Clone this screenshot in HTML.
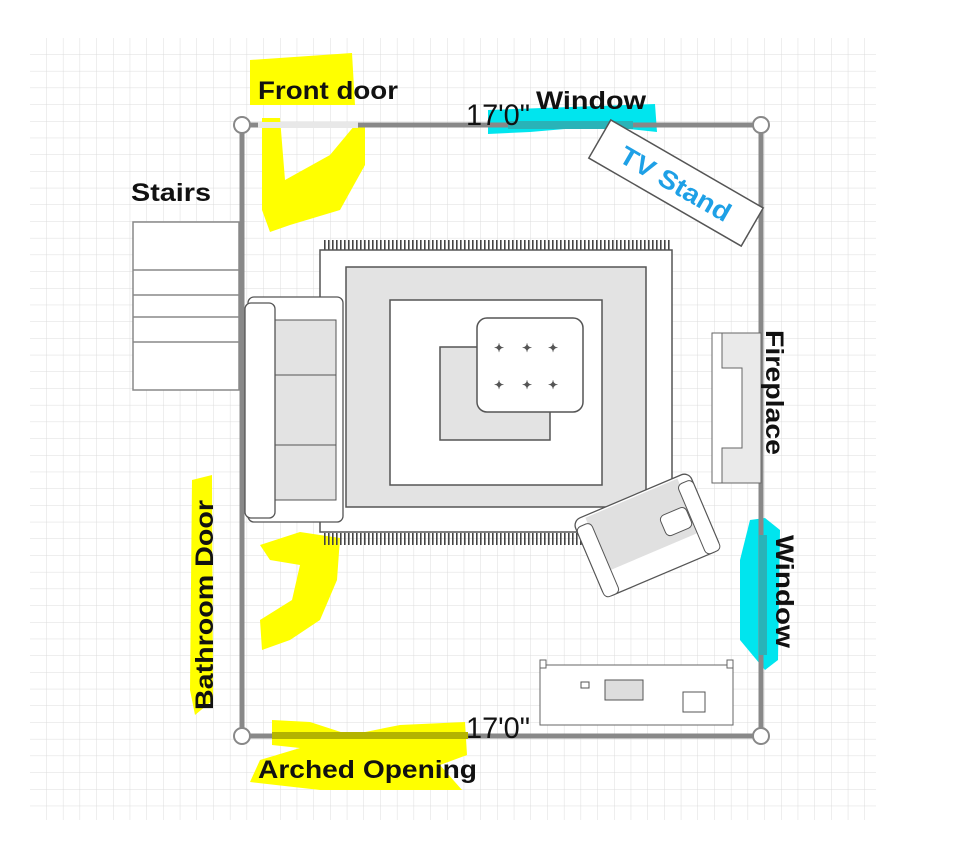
<!DOCTYPE html>
<html><head><meta charset="utf-8"><style>
html,body{margin:0;padding:0;background:#fff;width:960px;height:859px;overflow:hidden}
svg{display:block}
text{font-family:"Liberation Sans",sans-serif;font-weight:bold}
</style></head><body>
<svg width="960" height="859" viewBox="0 0 960 859" xmlns="http://www.w3.org/2000/svg">
<defs>
<pattern id="g" x="30" y="38" width="16.7" height="16.7" patternUnits="userSpaceOnUse">
<path d="M16.7 0V16.7H0" fill="none" stroke="#dcdcdc" stroke-width="1"/>
</pattern>
<pattern id="fr" x="0" y="0" width="4" height="12" patternUnits="userSpaceOnUse">
<rect x="0" y="0" width="1.6" height="12" fill="#444"/>
</pattern>
</defs>
<rect x="30" y="38" width="846" height="782" fill="url(#g)"/>

<!-- highlights -->
<path d="M250 60 L352 53 L355 105 L250 105 Z" fill="#ffff00"/>
<path d="M262 118 L280 118 L285 180 L330 155 L355 125 L365 125 L365 165 L340 210 L290 225 L270 232 L262 210 Z" fill="#ffff00"/>
<path d="M488 110 L655 104 L657 132 L600 126 L530 132 L488 134 Z" fill="#00e5ee"/>
<path d="M260 545 L300 532 L340 538 L337 580 L320 620 L290 640 L262 650 L260 620 L292 600 L300 565 L270 560 Z" fill="#ffff00"/>
<path d="M192 480 L212 475 L213 700 L195 715 L190 690 Z" fill="#ffff00"/>
<path d="M750 520 L765 518 L780 530 L778 660 L765 670 L740 640 L740 560 Z" fill="#00e5ee"/>
<path d="M272 720 L310 722 L350 735 L400 725 L465 722 L467 755 L440 765 L462 790 L320 790 L250 782 L260 760 L300 748 L272 745 Z" fill="#ffff00"/>

<!-- stairs -->
<rect x="133" y="222" width="106" height="168" fill="#fff" stroke="#888" stroke-width="1.5"/>
<path d="M133 270H239M133 295H239M133 317H239M133 342H239" stroke="#888" stroke-width="1.5"/>

<!-- walls -->
<path d="M242 125H761V736H242Z" stroke="#888" stroke-width="5" fill="none"/>
<rect x="258" y="122" width="100" height="6" fill="#e8e8e8"/>
<rect x="508" y="121" width="125" height="8" fill="#29b3b8"/>
<rect x="759" y="535" width="8" height="120" fill="#29b3b8"/>
<rect x="272" y="732" width="196" height="7" fill="#b4b400"/>
<g fill="#fff" stroke="#888" stroke-width="2">
<circle cx="242" cy="125" r="8"/><circle cx="761" cy="125" r="8"/>
<circle cx="242" cy="736" r="8"/><circle cx="761" cy="736" r="8"/>
</g>

<!-- rug -->
<rect x="322" y="240" width="350" height="12" fill="url(#fr)"/>
<rect x="322" y="533" width="335" height="12" fill="url(#fr)"/>
<rect x="320" y="250" width="352" height="282" fill="#fff" stroke="#555" stroke-width="1.5"/>
<rect x="346" y="267" width="300" height="240" fill="#e3e3e3" stroke="#555" stroke-width="1.5"/>
<rect x="390" y="300" width="212" height="185" fill="#fff" stroke="#555" stroke-width="1.5"/>
<rect x="440" y="347" width="110" height="93" fill="#e3e3e3" stroke="#555" stroke-width="1.5"/>
<rect x="477" y="318" width="106" height="94" rx="10" fill="#fff" stroke="#555" stroke-width="1.5"/>
<g fill="#555" font-size="12"><text x="494" y="352">✦</text><text x="522" y="352">✦</text><text x="548" y="352">✦</text><text x="494" y="389">✦</text><text x="522" y="389">✦</text><text x="548" y="389">✦</text></g>

<!-- sofa -->
<rect x="248" y="297" width="95" height="225" rx="6" fill="#fff" stroke="#555" stroke-width="1.3"/>
<rect x="274" y="320" width="62" height="180" fill="#e3e3e3" stroke="#555" stroke-width="1"/>
<path d="M274 375H336M274 445H336" stroke="#555"/>
<rect x="245" y="303" width="30" height="215" rx="6" fill="#fff" stroke="#555" stroke-width="1.3"/>

<!-- fireplace -->
<rect x="712" y="333" width="49" height="150" fill="#eaeaea" stroke="#666"/>
<path d="M712 333H722V368H742V448H722V483H712Z" fill="#fff" stroke="#666"/>

<!-- armchair -->
<g transform="translate(647 535) rotate(-23)">
<rect x="-63" y="-42" width="126" height="84" rx="8" fill="#fff" stroke="#555" stroke-width="1.3"/>
<rect x="-50" y="-40" width="100" height="58" fill="#e0e0e0"/>
<rect x="-63" y="-34" width="16" height="76" rx="5" fill="#fff" stroke="#555"/>
<rect x="47" y="-34" width="16" height="76" rx="5" fill="#fff" stroke="#555"/>
<rect x="18" y="-12" width="28" height="22" rx="5" fill="#fff" stroke="#555"/>
</g>

<!-- TV stand -->
<g transform="translate(676 183) rotate(30)">
<rect x="-88" y="-22" width="176" height="44" fill="#fff" stroke="#555" stroke-width="1.5"/>
<text x="-62" y="10" font-size="26" fill="#1ea0e6" textLength="124" lengthAdjust="spacingAndGlyphs">TV Stand</text>
</g>

<!-- desk -->
<rect x="540" y="665" width="193" height="60" fill="#fff" stroke="#666"/>
<rect x="540" y="660" width="6" height="8" fill="#fff" stroke="#666"/>
<rect x="727" y="660" width="6" height="8" fill="#fff" stroke="#666"/>
<rect x="581" y="682" width="8" height="6" fill="#fff" stroke="#555"/>
<rect x="605" y="680" width="38" height="20" fill="#ddd" stroke="#555"/>
<rect x="683" y="692" width="22" height="20" fill="#fff" stroke="#555"/>

<!-- labels -->
<g fill="#111" font-size="25" lengthAdjust="spacingAndGlyphs">
<text x="258" y="99" textLength="140" lengthAdjust="spacingAndGlyphs">Front door</text>
<text x="536" y="109" textLength="110" lengthAdjust="spacingAndGlyphs">Window</text>
<text x="131" y="201" textLength="80" lengthAdjust="spacingAndGlyphs">Stairs</text>
<text transform="translate(766 330) rotate(90)" textLength="125" lengthAdjust="spacingAndGlyphs">Fireplace</text>
<text transform="translate(776 535) rotate(90)" textLength="113" lengthAdjust="spacingAndGlyphs">Window</text>
<text transform="translate(213 710) rotate(-90)" textLength="210" lengthAdjust="spacingAndGlyphs">Bathroom Door</text>
<text x="258" y="778" textLength="219" lengthAdjust="spacingAndGlyphs">Arched Opening</text>
</g>
<text x="466" y="125" font-size="30" fill="#111" style="font-weight:normal" textLength="64" lengthAdjust="spacingAndGlyphs">17'0"</text>
<text x="466" y="738" font-size="30" fill="#111" style="font-weight:normal" textLength="64" lengthAdjust="spacingAndGlyphs">17'0"</text>
</svg>
</body></html>
